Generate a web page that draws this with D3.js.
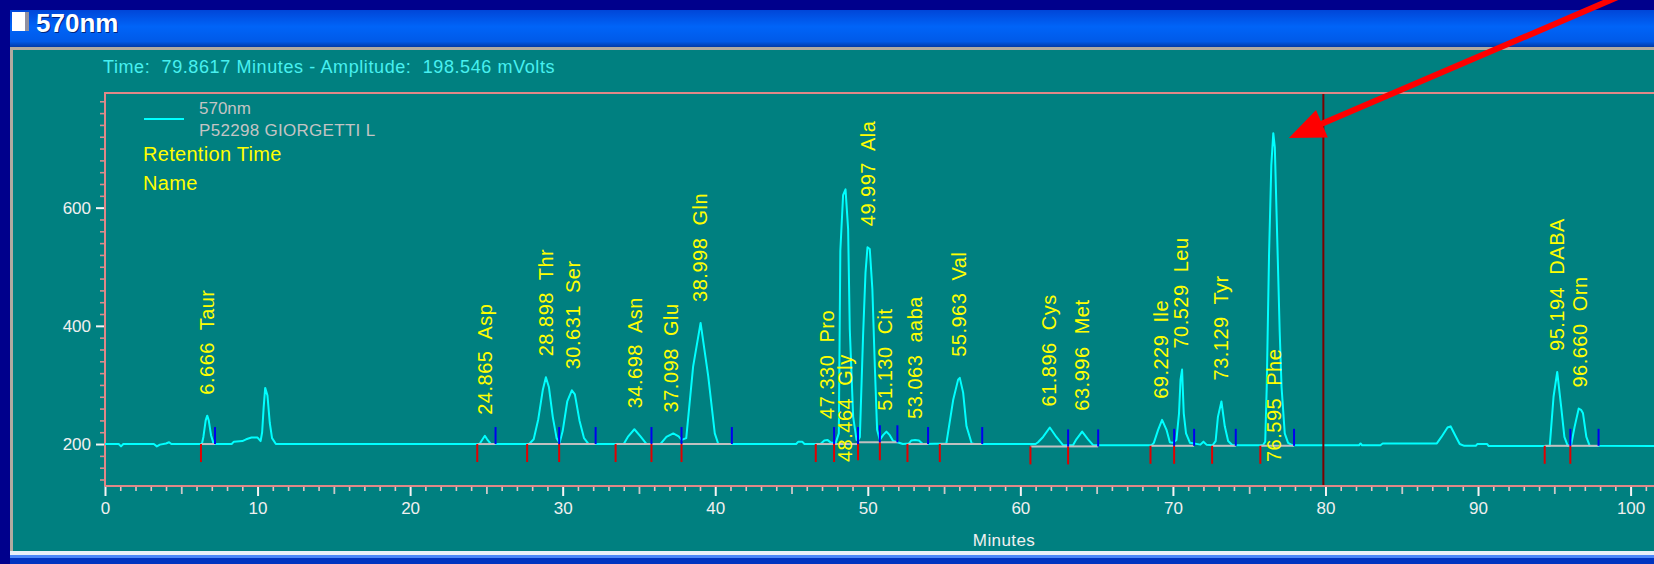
<!DOCTYPE html>
<html>
<head>
    <title>570nm chromatogram</title>
    <meta charset="UTF-8">
    <script src="https://d3js.org/d3.v7.min.js"></script>
    <style>
        body {
            margin: 0;
            background-color: #00008c;
            overflow: hidden;
        }
        svg {
            display: block;
        }
        text {
            font-family: "Liberation Sans", Arial, sans-serif;
        }
        .tick text {
            fill: #f0f0f0;
            font-size: 17px;
        }
        .peak-label {
            fill: #ffff00;
            font-size: 20px;
            letter-spacing: 0.5px;
            white-space: pre;
        }
    </style>
</head>
<body>
<div id="chart"></div>
<script>
    // detector trace, [minutes, mVolts]
    var trace = [
        [0, 200], [0.9, 200], [1.05, 196], [1.2, 200], [3.2, 200], [3.4, 196], [3.6, 199], [4.0, 201], [4.2, 203], [4.35, 200],
        [6.35, 200], [6.45, 212], [6.6, 240], [6.7, 248], [6.8, 240], [6.95, 215], [7.1, 202], [7.25, 200],
        [8.3, 200], [8.45, 204], [9.0, 205], [9.25, 208], [9.6, 211], [10.0, 211], [10.2, 205], [10.3, 220], [10.4, 262],
        [10.5, 295], [10.65, 282], [10.8, 236], [10.95, 210], [11.2, 200],
        [24.55, 200], [24.75, 208], [24.9, 214], [25.05, 208], [25.3, 200],
        [27.8, 200], [28.1, 208], [28.4, 242], [28.7, 292], [28.9, 313], [29.1, 296], [29.35, 246], [29.6, 210], [29.8, 202],
        [30.0, 222], [30.3, 272], [30.6, 291], [30.8, 284], [31.1, 240], [31.4, 210], [31.7, 200],
        [34.0, 200], [34.3, 213], [34.7, 225], [35.1, 213], [35.5, 200],
        [36.4, 200], [36.8, 212], [37.25, 218], [37.6, 213], [37.8, 207],
        [38.1, 210], [38.55, 331], [39.04, 405], [39.54, 315], [39.97, 218], [40.2, 200],
        [45.3, 200], [45.45, 204], [45.7, 204], [45.85, 200],
        [46.9, 200], [47.15, 206], [47.35, 207], [47.6, 202], [47.9, 202],
        [48.1, 218], [48.2, 527], [48.38, 621], [48.54, 631], [48.71, 564], [48.82, 394], [49.04, 246], [49.26, 207], [49.36, 206],
        [49.48, 212], [49.69, 383], [49.85, 490], [49.98, 533], [50.13, 530], [50.3, 462], [50.46, 332], [50.61, 224], [50.79, 207],
        [51.0, 215], [51.22, 221], [51.44, 215], [51.66, 205], [51.94, 203], [52.3, 200],
        [52.7, 201], [52.85, 206], [53.1, 207], [53.35, 206], [53.6, 200],
        [55.15, 201], [55.6, 275], [55.92, 309], [56.03, 312], [56.25, 287], [56.47, 230], [56.81, 201], [57.0, 200],
        [61.0, 200], [61.16, 203], [61.49, 212], [61.93, 228], [62.36, 212], [62.8, 198],
        [63.45, 198], [63.67, 208], [64.05, 221], [64.44, 208], [64.77, 198],
        [68.6, 198], [68.75, 202], [69.03, 224], [69.29, 241], [69.58, 224], [69.8, 203], [70.0, 202],
        [70.23, 207], [70.4, 252], [70.5, 309], [70.6, 326], [70.71, 252], [70.86, 218], [71.12, 202],
        [71.8, 199], [72.0, 204], [72.2, 199], [72.6, 198],
        [72.8, 205], [72.95, 246], [73.18, 272], [73.4, 230], [73.62, 205], [73.9, 198],
        [75.9, 198], [76.05, 204], [76.15, 297], [76.3, 519], [76.45, 672], [76.58, 726], [76.68, 702], [76.8, 585],
        [77.0, 390], [77.12, 297], [77.33, 218], [77.55, 202], [77.8, 198],
        [82.2, 198], [82.3, 201], [82.4, 198], [83.6, 198], [83.75, 201], [87.3, 201], [87.6, 212], [88.0, 228], [88.2, 230],
        [88.5, 215], [88.8, 200], [89.1, 197], [89.85, 197], [89.95, 200], [90.6, 200], [90.7, 196.5],
        [94.7, 196.5], [94.95, 280], [95.19, 322], [95.45, 263], [95.66, 212], [95.88, 197],
        [96.1, 198], [96.33, 229], [96.6, 260], [96.75, 258], [96.88, 252], [97.1, 212], [97.32, 197],
        [101.6, 196.5]
    ];

    // integrated peaks
    var peakRT = [6.666, 24.865, 28.898, 30.631, 34.698, 37.098, 38.998, 47.330, 48.464, 49.997, 51.130,
                  53.063, 55.963, 61.896, 63.996, 69.229, 70.529, 73.129, 76.595, 95.194, 96.660];
    var peakName = ["Taur", "Asp", "Thr", "Ser", "Asn", "Glu", "Gln", "Pro", "Gly", "Ala", "Cit",
                    "aaba", "Val", "Cys", "Met", "Ile", "Leu", "Tyr", "Phe", "DABA", "Orn"];
    var peakStart = [6.29, 24.4, 27.67, 29.77, 33.47, 35.82, 37.79, 46.59, 47.79, 49.36, 50.79,
                     52.6, 54.72, 60.66, 63.13, 68.53, 70.08, 72.57, 75.73, 94.37, 96.05];
    var peakEnd = [7.21, 25.6, 29.77, 32.16, 35.82, 37.79, 41.09, 47.79, 49.36, 50.79, 51.94,
                   53.95, 57.5, 63.13, 65.1, 70.08, 71.39, 74.12, 77.94, 96.05, 97.9];
    var peakBase = [200, 200, 200, 200, 200, 200, 200, 200, 200, 203, 203,
                    200, 200, 196, 196, 197, 197, 197, 197, 197, 197];

    var xLabelTicks = [0, 10, 20, 30, 40, 50, 60, 70, 80, 90, 100];
    var yLabelTicks = [200, 400, 600];
    var cursorTime = 79.8617,
        cursorAmp = 198.546;
    // where the red annotation arrow points (minutes, mVolts)
    var arrowTip = [77.6, 718];

    var W = 1654, H = 564;
    var plot = {left: 105, top: 93, bottom: 486, right: 1655};

    var x = d3.scaleLinear().domain([0, 101.6]).range([plot.left, plot.right]);
    var y = d3.scaleLinear().domain([129, 794]).range([plot.bottom, plot.top]);

    var svg = d3.select("#chart").append("svg")
        .attr("width", W)
        .attr("height", H);

    // window chrome
    var defs = svg.append("defs");
    var grad = defs.append("linearGradient").attr("id", "titlebar")
        .attr("x1", 0).attr("y1", 0).attr("x2", 0).attr("y2", 1);
    grad.append("stop").attr("offset", "0%").attr("stop-color", "#0046d8");
    grad.append("stop").attr("offset", "45%").attr("stop-color", "#0064f8");
    grad.append("stop").attr("offset", "85%").attr("stop-color", "#005ae8");
    grad.append("stop").attr("offset", "100%").attr("stop-color", "#003aa8");

    svg.append("rect").attr("width", W).attr("height", H).attr("fill", "#00008c");
    svg.append("rect").attr("x", 10).attr("y", 10).attr("width", W - 10).attr("height", 37)
        .attr("fill", "url(#titlebar)");
    svg.append("rect").attr("x", 10).attr("y", 47).attr("width", W - 10).attr("height", 505)
        .attr("fill", "#b0aaa0");
    svg.append("rect").attr("x", 13).attr("y", 50).attr("width", W - 13).attr("height", 501)
        .attr("fill", "#008080");
    svg.append("rect").attr("x", 10).attr("y", 551).attr("width", W - 10).attr("height", 4).attr("fill", "#e8f0f8");
    svg.append("rect").attr("x", 10).attr("y", 555).attr("width", W - 10).attr("height", 3).attr("fill", "#4c88f8");
    svg.append("rect").attr("x", 10).attr("y", 558).attr("width", W - 10).attr("height", 6).attr("fill", "#0034c0");

    // title bar icon + caption
    svg.append("rect").attr("x", 12).attr("y", 12).attr("width", 13).attr("height", 19).attr("fill", "#ffffff");
    svg.append("rect").attr("x", 25).attr("y", 12).attr("width", 4).attr("height", 19).attr("fill", "#9090a0");
    svg.append("text").attr("x", 37).attr("y", 33)
        .attr("fill", "#000030").attr("opacity", 0.6)
        .style("font-size", "26px").style("font-weight", "bold")
        .text("570nm");
    svg.append("text").attr("x", 36).attr("y", 32)
        .attr("fill", "#ffffff")
        .style("font-size", "26px").style("font-weight", "bold")
        .text("570nm");

    // cursor readout
    svg.append("text").attr("x", 103).attr("y", 73)
        .attr("fill", "#48f0f0")
        .style("font-size", "18px").style("letter-spacing", "0.6px").style("white-space", "pre")
        .text("Time:  " + cursorTime.toFixed(4) + " Minutes - Amplitude:  " + cursorAmp.toFixed(3) + " mVolts");

    // axes
    var yMinor = d3.range(140, 794, 20).filter(function (v) { return yLabelTicks.indexOf(v) < 0; });
    var xAll = d3.range(0, 102, 1);

    var gy = svg.append("g").attr("transform", "translate(" + plot.left + ",0)");
    gy.append("g").call(d3.axisLeft(y).tickValues(yMinor).tickSize(5).tickFormat(""))
        .call(function (g) {
            g.select(".domain").remove();
            g.selectAll("line").attr("stroke", "#d88c8c").attr("stroke-width", 1.6);
        });
    gy.append("g").call(d3.axisLeft(y).tickValues(yLabelTicks).tickSize(9).tickPadding(5))
        .call(function (g) {
            g.select(".domain").remove();
            g.selectAll("line").attr("stroke", "#f4f4f4").attr("stroke-width", 2);
            g.selectAll("text").attr("font-family", null);
        });

    var gx = svg.append("g").attr("transform", "translate(0," + plot.bottom + ")");
    gx.append("g").call(d3.axisBottom(x).tickValues(xAll.filter(function (t) { return t % 5 !== 0; }))
            .tickSize(5).tickFormat(""))
        .call(function (g) {
            g.select(".domain").remove();
            g.selectAll("line").attr("stroke", "#e0c4c4").attr("stroke-width", 1.6);
        });
    gx.append("g").call(d3.axisBottom(x).tickValues(xAll.filter(function (t) { return t % 10 === 5; }))
            .tickSize(8).tickFormat(""))
        .call(function (g) {
            g.select(".domain").remove();
            g.selectAll("line").attr("stroke", "#c8c8c8").attr("stroke-width", 1.8);
        });
    gx.append("g").call(d3.axisBottom(x).tickValues(xLabelTicks).tickSize(10).tickPadding(6))
        .call(function (g) {
            g.select(".domain").remove();
            g.selectAll("line").attr("stroke", "#f4f4f4").attr("stroke-width", 2);
            g.selectAll("text").attr("font-family", null);
        });

    svg.append("text").attr("x", 1004).attr("y", 546)
        .attr("text-anchor", "middle")
        .attr("fill", "#f0f0f0")
        .style("font-size", "17px").style("letter-spacing", "0.4px")
        .text("Minutes");

    // plot frame
    svg.append("path")
        .attr("d", "M" + plot.left + "," + plot.bottom + "V" + plot.top + "H" + W)
        .attr("fill", "none").attr("stroke", "#e08888").attr("stroke-width", 2);
    svg.append("line")
        .attr("x1", plot.left).attr("x2", W)
        .attr("y1", plot.bottom).attr("y2", plot.bottom)
        .attr("stroke", "#e08888").attr("stroke-width", 2);

    // legend
    svg.append("line").attr("x1", 144).attr("x2", 184).attr("y1", 119).attr("y2", 119)
        .attr("stroke", "#00ffff").attr("stroke-width", 2);
    svg.append("text").attr("x", 199).attr("y", 114)
        .attr("fill", "#c4c4c4").style("font-size", "17px")
        .text("570nm");
    svg.append("text").attr("x", 199).attr("y", 136)
        .attr("fill", "#c4c4c4").style("font-size", "17px").style("letter-spacing", "0.3px")
        .text("P52298 GIORGETTI L");
    svg.append("text").attr("x", 143).attr("y", 161)
        .attr("fill", "#ffff00").style("font-size", "20px").style("letter-spacing", "0.3px")
        .text("Retention Time");
    svg.append("text").attr("x", 143).attr("y", 190)
        .attr("fill", "#ffff00").style("font-size", "20px").style("letter-spacing", "0.3px")
        .text("Name");

    // chromatogram trace
    var line = d3.line()
        .x(function (d) { return x(d[0]); })
        .y(function (d) { return y(d[1]); });

    svg.append("path")
        .datum(trace)
        .attr("d", line)
        .attr("fill", "none")
        .attr("stroke", "#00ffff")
        .attr("stroke-width", 2)
        .attr("stroke-linejoin", "round");

    // cursor
    svg.append("line")
        .attr("x1", x(cursorTime)).attr("x2", x(cursorTime))
        .attr("y1", plot.top + 1).attr("y2", plot.bottom - 1)
        .attr("stroke", "#7a0000").attr("stroke-width", 2);

    var peaks = peakRT.map(function (rt, i) {
        var inside = trace.filter(function (p) { return p[0] >= peakStart[i] && p[0] <= peakEnd[i]; });
        return {
            rt: rt, name: peakName[i], start: peakStart[i], end: peakEnd[i], base: peakBase[i],
            apex: d3.max(inside, function (p) { return p[1]; })
        };
    });

    // integration baselines and start / end marks
    svg.append("g").selectAll("line").data(peaks).join("line")
        .attr("x1", function (d) { return x(d.start); })
        .attr("x2", function (d) { return x(d.end); })
        .attr("y1", function (d) { return y(d.base); })
        .attr("y2", function (d) { return y(d.base); })
        .attr("stroke", "#c0c0c0").attr("stroke-width", 2);

    svg.append("g").selectAll("line").data(peaks).join("line")
        .attr("x1", function (d) { return x(d.start); })
        .attr("x2", function (d) { return x(d.start); })
        .attr("y1", function (d) { return y(d.base); })
        .attr("y2", function (d) { return y(d.base) + 18; })
        .attr("stroke", "#e00000").attr("stroke-width", 2);

    svg.append("g").selectAll("line").data(peaks).join("line")
        .attr("x1", function (d) { return x(d.end); })
        .attr("x2", function (d) { return x(d.end); })
        .attr("y1", function (d) { return y(d.base) - 17; })
        .attr("y2", function (d) { return y(d.base); })
        .attr("stroke", "#0000f0").attr("stroke-width", 2);

    // peak labels, rotated; too tall ones drop to the bottom of the plot
    var labels = svg.append("g").selectAll("text").data(peaks).join("text")
        .attr("class", "peak-label")
        .attr("dy", "0.36em")
        .text(function (d) { return d.rt.toFixed(3) + "  " + d.name; });

    labels.attr("transform", function (d) {
        var len = this.getComputedTextLength();
        var yb = y(d.apex) - 21;
        if (yb - len < plot.top) yb = 462;
        return "translate(" + x(d.rt) + "," + yb + ") rotate(-90)";
    });

    // red arrow pointing at the Phe peak
    var tip = [x(arrowTip[0]), y(arrowTip[1])];
    var tail = [1620, -4];
    var ux = tip[0] - tail[0], uy = tip[1] - tail[1];
    var ul = Math.sqrt(ux * ux + uy * uy);
    ux /= ul; uy /= ul;
    var headLen = 36, headHalf = 15;
    var bx = tip[0] - ux * headLen, by = tip[1] - uy * headLen;
    svg.append("line")
        .attr("x1", tail[0]).attr("y1", tail[1])
        .attr("x2", bx + ux * 2).attr("y2", by + uy * 2)
        .attr("stroke", "#ff0000").attr("stroke-width", 6);
    svg.append("path")
        .attr("d", "M" + tip[0] + "," + tip[1] +
            "L" + (bx - uy * headHalf) + "," + (by + ux * headHalf) +
            "L" + (bx + uy * headHalf) + "," + (by - ux * headHalf) + "Z")
        .attr("fill", "#ff0000");
</script>
</body>
</html>
